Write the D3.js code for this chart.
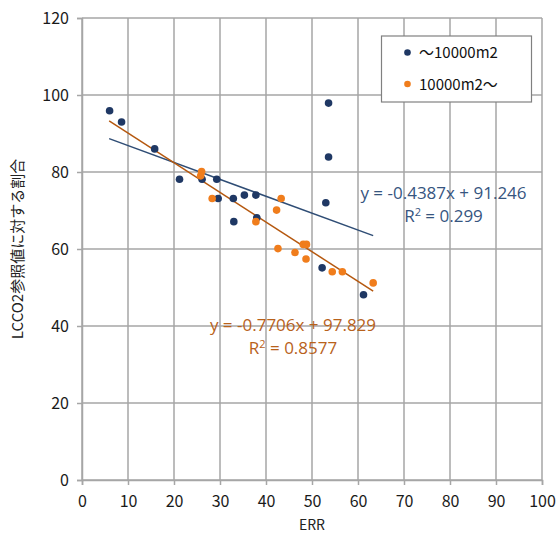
<!DOCTYPE html>
<html><head><meta charset="utf-8">
<script src="https://cdn.jsdelivr.net/npm/d3@7"></script>
<style>body{margin:0;background:#fff}svg{display:block}</style>
</head><body>
<script>
const xTicks = [0,10,20,30,40,50,60,70,80,90,100];
const yTicks = [0,20,40,60,80,100,120];
const seriesNames = ["〜10000m2", "10000m2〜"];
const blueX = [6.0,8.6,15.8,21.2,26.1,29.3,29.6,32.9,35.3,37.8,33.0,38.0,53.0,53.6,53.6,52.2,61.2];
const blueY = [95.9,93.0,86.0,78.1,78.1,78.1,73.1,73.1,74.0,74.0,67.1,68.1,72.0,97.9,83.9,55.1,48.1];
const orangeX = [26.0,25.8,28.3,43.3,42.3,37.8,42.6,46.3,48.1,48.8,48.7,54.4,56.6,63.3];
const orangeY = [80.1,79.0,73.1,73.1,70.1,67.1,60.1,59.1,61.2,61.2,57.4,54.1,54.1,51.2];
const blueFit = {slope:-0.4387, intercept:91.246, r2:"0.299"};
const orangeFit = {slope:-0.7706, intercept:97.829, r2:"0.8577"};
const fitRange = [5.9, 63.3];
const xTitle = "ERR";
const yTitle = "LCCO2参照値に対する割合";

const W=559,H=538;
const m={l:82,r:17,t:18,b:58};
const svg=d3.select("body").append("svg").attr("width",W).attr("height",H);
const x=d3.scaleLinear().domain([0,100]).range([m.l,W-m.r]);
const y=d3.scaleLinear().domain([0,120]).range([H-m.b,m.t]);
const grid="#a6a6a6";
const tickFont="'Noto Sans CJK JP', 'DejaVu Sans', sans-serif";

// grid
svg.append("g").selectAll("line").data(xTicks).join("line")
  .attr("x1",d=>x(d)).attr("x2",d=>x(d)).attr("y1",y(0)).attr("y2",y(120))
  .attr("stroke",grid).attr("stroke-width",1.5);
svg.append("g").selectAll("line").data(yTicks).join("line")
  .attr("x1",x(0)).attr("x2",x(100)).attr("y1",d=>y(d)).attr("y2",d=>y(d))
  .attr("stroke",grid).attr("stroke-width",1.5);

// axes
const xa=svg.append("g").attr("transform",`translate(0,${y(0)})`)
  .call(d3.axisBottom(x).tickValues(xTicks).tickSize(5).tickPadding(11));
const ya=svg.append("g").attr("transform",`translate(${x(0)},0)`)
  .call(d3.axisLeft(y).tickValues(yTicks).tickSize(5).tickPadding(8));
[xa,ya].forEach(a=>{
  a.selectAll("path").attr("stroke",grid).attr("stroke-width",1.5);
  a.selectAll("line").attr("stroke",grid).attr("stroke-width",1.5);
  a.selectAll("text").attr("font-family",tickFont).attr("font-size",16).attr("fill","#1a1a1a");
});

// titles
svg.append("text").attr("x",x(50)).attr("y",530).attr("text-anchor","middle")
  .attr("font-family",tickFont).attr("font-size",14).attr("fill","#222").text(xTitle);
svg.append("text").attr("transform",`translate(23,${y(60)}) rotate(-90)`).attr("text-anchor","middle")
  .attr("font-family",tickFont).attr("font-size",15).attr("fill","#222").text(yTitle);

// fit lines
function fitLine(f,color){
  svg.append("line")
    .attr("x1",x(fitRange[0])).attr("y1",y(f.slope*fitRange[0]+f.intercept))
    .attr("x2",x(fitRange[1])).attr("y2",y(f.slope*fitRange[1]+f.intercept))
    .attr("stroke",color).attr("stroke-width",1.5);
}
const blueC="#1f3864", orangeC="#f07d1c";
fitLine(blueFit,"#2f4d75");
fitLine(orangeFit,"#b5580f");

// points
svg.append("g").selectAll("circle").data(blueX.map((v,i)=>[v,blueY[i]])).join("circle")
  .attr("cx",d=>x(d[0])).attr("cy",d=>y(d[1])).attr("r",3.8).attr("fill",blueC);
svg.append("g").selectAll("circle").data(orangeX.map((v,i)=>[v,orangeY[i]])).join("circle")
  .attr("cx",d=>x(d[0])).attr("cy",d=>y(d[1])).attr("r",3.8).attr("fill",orangeC);

// equations
const eqFont="'Open Sans', 'Liberation Sans', sans-serif";
function eq(f,cx,cy,color){
  const t=svg.append("text").attr("x",cx).attr("y",cy).attr("text-anchor","middle")
    .attr("font-family",eqFont).attr("font-size",17).attr("fill",color);
  t.text(`y = ${f.slope}x + ${f.intercept}`);
  const r=svg.append("text").attr("x",cx).attr("y",cy+23).attr("text-anchor","middle")
    .attr("font-family",eqFont).attr("font-size",17).attr("fill",color);
  r.append("tspan").text("R");
  r.append("tspan").attr("dy",-6).attr("font-size",11).text("2");
  r.append("tspan").attr("dy",6).text(` = ${f.r2}`);
}
eq(blueFit,443.5,199,"#36557f");
eq(orangeFit,293,331,"#b8621b");

// legend
const lg=svg.append("g");
lg.append("rect").attr("x",381.5).attr("y",36).attr("width",150).attr("height",66)
  .attr("fill","#fff").attr("stroke","#808080").attr("stroke-width",1.2);
[blueC,orangeC].forEach((c,i)=>{
  lg.append("circle").attr("cx",407.5).attr("cy",52.5+i*31.5).attr("r",3.3).attr("fill",c);
  lg.append("text").attr("x",419).attr("y",58+i*31.5).attr("font-family",tickFont)
    .attr("font-size",15).attr("fill","#111").text(seriesNames[i]);
});
</script>
</body></html>
